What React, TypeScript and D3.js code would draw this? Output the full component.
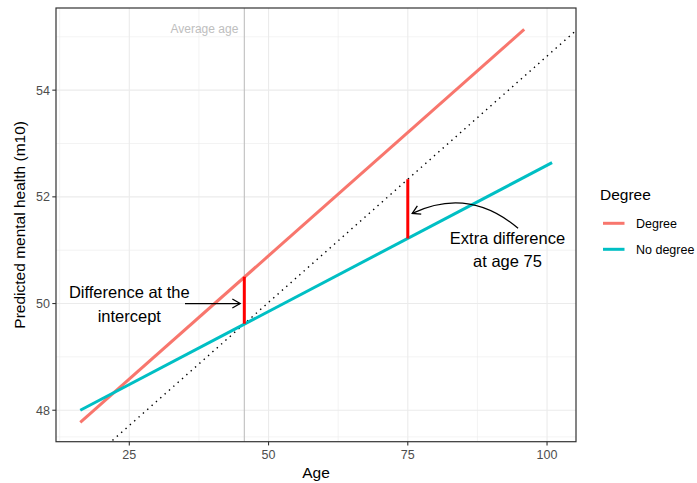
import React from "react";
import * as d3 from "d3";

// predicted lines (endpoints of the fitted range)
const degreeAge = [16.2, 95.9];
const degreeValue = [47.77, 55.14];
const noDegreeAge = [16.2, 100.9];
const noDegreeValue = [48.0, 52.64];

// reference line: no-degree value at the average age, with the degree slope
const averageAge = 45.65;
const refAge = [45.65, 75];
const refValue = [49.62, 52.33];

// red difference segments
const segAge = [45.65, 75];
const segLow = [49.62, 51.22];
const segHigh = [50.5, 52.33];

const xTicks = [25, 50, 75, 100];
const xMinor = [12.5, 37.5, 62.5, 87.5];
const yTicks = [48, 50, 52, 54];
const yMinor = [47.5, 49, 51, 53, 55];

const legendLabels = ["Degree", "No degree"];
const colors = ["#F8766D", "#00BFC4"];

const W = 697;
const H = 483;
const panel = { left: 56, right: 576, top: 8, bottom: 441.7 };
const font = "'Liberation Sans', Arial, sans-serif";

export default function App() {
  const x = d3.scaleLinear().domain([11.84, 105.2]).range([panel.left, panel.right]);
  const y = d3.scaleLinear().domain([47.41, 55.54]).range([panel.bottom, panel.top]);
  const line = d3.line<[number, number]>().x(d => x(d[0])).y(d => y(d[1]));

  const slope = (refValue[1] - refValue[0]) / (refAge[1] - refAge[0]);
  const [d0, d1] = x.domain();
  const refLine: [number, number][] = [
    [d0, refValue[0] + slope * (d0 - refAge[0])],
    [d1, refValue[0] + slope * (d1 - refAge[0])],
  ];

  const series = [
    degreeAge.map((a, i) => [a, degreeValue[i]] as [number, number]),
    noDegreeAge.map((a, i) => [a, noDegreeValue[i]] as [number, number]),
  ];

  // curved arrow for the second note
  const cStart = [x(94.8), y(51.41)];
  const cEnd = [x(75.8), y(51.69)];
  const cCtrl = [469, 186.5];
  const curvePath = `M${cStart[0]},${cStart[1]} Q${cCtrl[0]},${cCtrl[1]} ${cEnd[0]},${cEnd[1]}`;

  const arrowHead = (tx: number, ty: number, fromX: number, fromY: number) => {
    const ang = Math.atan2(ty - fromY, tx - fromX);
    const len = 9;
    const spread = Math.PI / 6;
    const p1 = [tx - len * Math.cos(ang - spread), ty - len * Math.sin(ang - spread)];
    const p2 = [tx - len * Math.cos(ang + spread), ty - len * Math.sin(ang + spread)];
    return `M${p1[0]},${p1[1]} L${tx},${ty} L${p2[0]},${p2[1]}`;
  };

  return (
    <svg width={W} height={H} style={{ display: "block", position: "absolute", left: 0, top: 0 }} fontFamily={font}>
      <defs>
        <clipPath id="panel-clip">
          <rect x={panel.left} y={panel.top} width={panel.right - panel.left} height={panel.bottom - panel.top} />
        </clipPath>
      </defs>
      <rect width={W} height={H} fill="white" />

      {/* grid */}
      <g clipPath="url(#panel-clip)">
        {xMinor.map(t => (
          <line key={"xm" + t} x1={x(t)} x2={x(t)} y1={panel.top} y2={panel.bottom} stroke="#EBEBEB" strokeWidth={0.6} />
        ))}
        {yMinor.map(t => (
          <line key={"ym" + t} x1={panel.left} x2={panel.right} y1={y(t)} y2={y(t)} stroke="#EBEBEB" strokeWidth={0.6} />
        ))}
        {xTicks.map(t => (
          <line key={"xg" + t} x1={x(t)} x2={x(t)} y1={panel.top} y2={panel.bottom} stroke="#EBEBEB" strokeWidth={1.1} />
        ))}
        {yTicks.map(t => (
          <line key={"yg" + t} x1={panel.left} x2={panel.right} y1={y(t)} y2={y(t)} stroke="#EBEBEB" strokeWidth={1.1} />
        ))}
      </g>

      {/* average age */}
      <line x1={x(averageAge)} x2={x(averageAge)} y1={panel.top} y2={panel.bottom} stroke="#BEBEBE" strokeWidth={1.1} />
      <text x={x(averageAge) - 6} y={33} fontSize={12} fill="#BEBEBE" textAnchor="end">Average age</text>

      <g clipPath="url(#panel-clip)">
        <path d={line(refLine) || ""} fill="none" stroke="black" strokeWidth={1.4} strokeDasharray="1.4 4.4" />
        {series.map((s, i) => (
          <path key={i} d={line(s) || ""} fill="none" stroke={colors[i]} strokeWidth={3} />
        ))}
        {segAge.map((a, i) => (
          <line key={"seg" + i} x1={x(a)} x2={x(a)} y1={y(segLow[i])} y2={y(segHigh[i])} stroke="#FF0000" strokeWidth={3} />
        ))}
      </g>

      {/* annotations */}
      <g fill="black" fontSize={16.5} textAnchor="middle">
        <text x={x(25)} y={y(50) - 6}>Difference at the</text>
        <text x={x(25)} y={y(50) + 18}>intercept</text>
        <text x={x(92.9)} y={y(51) - 6}>Extra difference</text>
        <text x={x(92.9)} y={y(51) + 17}>at age 75</text>
      </g>
      <line x1={x(35)} x2={x(44.9)} y1={y(50)} y2={y(50)} stroke="black" strokeWidth={1.3} />
      <path d={arrowHead(x(44.9), y(50), x(35), y(50))} fill="none" stroke="black" strokeWidth={1.3} />
      <path d={curvePath} fill="none" stroke="black" strokeWidth={1.3} />
      <path d={arrowHead(cEnd[0], cEnd[1], cCtrl[0], cCtrl[1])} fill="none" stroke="black" strokeWidth={1.3} />

      {/* panel border */}
      <rect x={panel.left} y={panel.top} width={panel.right - panel.left} height={panel.bottom - panel.top} fill="none" stroke="#333333" strokeWidth={1.2} />

      {/* axes */}
      {xTicks.map(t => (
        <g key={"xt" + t}>
          <line x1={x(t)} x2={x(t)} y1={panel.bottom} y2={panel.bottom + 3.7} stroke="#333333" strokeWidth={1.1} />
          <text x={x(t)} y={panel.bottom + 17.5} fontSize={12.5} fill="#4D4D4D" textAnchor="middle">{t}</text>
        </g>
      ))}
      {yTicks.map(t => (
        <g key={"yt" + t}>
          <line x1={panel.left - 3.7} x2={panel.left} y1={y(t)} y2={y(t)} stroke="#333333" strokeWidth={1.1} />
          <text x={panel.left - 6} y={y(t) + 4.4} fontSize={12.5} fill="#4D4D4D" textAnchor="end">{t}</text>
        </g>
      ))}
      <text x={(panel.left + panel.right) / 2} y={478} fontSize={15.5} textAnchor="middle">Age</text>
      <text transform={`translate(25,${(panel.top + panel.bottom) / 2}) rotate(-90)`} fontSize={15.5} textAnchor="middle">
        Predicted mental health (m10)
      </text>

      {/* legend */}
      <text x={600} y={200} fontSize={15.5}>Degree</text>
      {legendLabels.map((l, i) => (
        <g key={l}>
          <line x1={603} x2={624.5} y1={223.3 + i * 26} y2={223.3 + i * 26} stroke={colors[i]} strokeWidth={3} />
          <text x={636} y={223.3 + i * 26 + 4.4} fontSize={12.5}>{l}</text>
        </g>
      ))}
    </svg>
  );
}
